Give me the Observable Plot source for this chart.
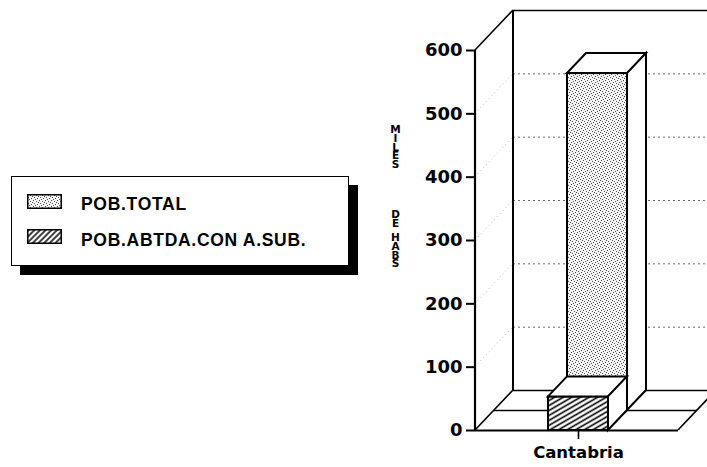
<!DOCTYPE html>
<html>
<head>
<meta charset="utf-8">
<script src="https://cdn.jsdelivr.net/npm/d3@7"></script>
<script src="https://cdn.jsdelivr.net/npm/@observablehq/plot@0.6"></script>
<style>
  html, body { margin: 0; padding: 0; background: #fff; }
  #wrap { position: relative; width: 707px; height: 467px; overflow: hidden; background: #fff; }
  #chart { position: absolute; left: 0; top: 0; }
  #legend {
    position: absolute; left: 11px; top: 176px; width: 336px; height: 88px;
    border: 1.5px solid #000; background: #fff; box-shadow: 9px 9px 0 #000;
    font-family: "Liberation Sans", Arial, sans-serif; font-weight: bold;
    font-size: 17.5px; letter-spacing: 0.7px; color: #000;
  }
  #legend .sw { position: absolute; left: 15px; width: 35px; height: 15px; }
  #legend .lab { position: absolute; left: 69px; line-height: 17.5px; white-space: nowrap; }
</style>
</head>
<body>
<svg width="0" height="0" style="position:absolute">
  <defs>
    <pattern id="stipple" patternUnits="userSpaceOnUse" width="6" height="6">
      <rect width="6" height="6" fill="#f4f4f4"/>
      <rect x="0" y="0" width="1" height="1" fill="#444"/>
      <rect x="3" y="1" width="1" height="1" fill="#555"/>
      <rect x="5" y="2" width="1" height="1" fill="#444"/>
      <rect x="1" y="3" width="1" height="1" fill="#555"/>
      <rect x="4" y="4" width="1" height="1" fill="#444"/>
      <rect x="2" y="5" width="1" height="1" fill="#555"/>
    </pattern>
    <pattern id="hatch" patternUnits="userSpaceOnUse" width="8" height="4.3" patternTransform="rotate(-30)">
      <rect width="8" height="4.3" fill="#fff"/>
      <line x1="0" y1="2.15" x2="8" y2="2.15" stroke="#000" stroke-width="1.6"/>
    </pattern>
    <pattern id="hatchLegend" patternUnits="userSpaceOnUse" width="8" height="4" patternTransform="rotate(-45)">
      <rect width="8" height="4" fill="#fff"/>
      <line x1="0" y1="2" x2="8" y2="2" stroke="#000" stroke-width="1.5"/>
    </pattern>
  </defs>
</svg>
<div id="wrap">
  <div id="chart"></div>
  <div id="legend"></div>
</div>
<script>
// ---- data ----
const categories = ["Cantabria"];
const seriesNames = ["POB.TOTAL", "POB.ABTDA.CON A.SUB."];
const pobTotal = [532];        // miles de habitantes
const pobAbastecida = [53];    // miles de habitantes
const yTicks = [0, 100, 200, 300, 400, 500, 600];
const axisTitleWords = ["MILES", "DE", "HABS"];

// ---- style / layout ----
const DX = 19, DY = -20;                 // depth offset of one series row (px)
const seriesFills = ["url(#stipple)", "url(#hatch)"];
const legendFills = ["url(#stipple)", "url(#hatchLegend)"];
const titleOffsets = [65, 150, 173];     // vertical offsets of the stacked title words
const axisFont = "DejaVu Sans";

const rows = categories.map((c, i) => ({region: c, total: pobTotal[i], sub: pobAbastecida[i]}));

function bar3d(field, fill, slot) {
  return Plot.barY(rows, {
    x: "region", y: field, fill, stroke: "#000", strokeWidth: 2,
    dx: slot * DX, dy: slot * DY,
    render(index, scales, values, dims, context, next) {
      const g = next(index, scales, values, dims, context);
      const bw = typeof scales.x.bandwidth === "function" ? scales.x.bandwidth() : scales.scales.x.bandwidth;
      const sel = d3.select(g);
      for (const i of index) {
        const x0 = scales.x(rows[i].region), x1 = x0 + bw;
        const yt = scales.y(rows[i][field]), yb = scales.y(0);
        sel.append("polygon")
          .attr("points", [[x0, yt], [x1, yt], [x1 + DX, yt + DY], [x0 + DX, yt + DY]].map(p => p.join(",")).join(" "))
          .attr("fill", "#fff").attr("stroke-linejoin", "miter");
        sel.append("polygon")
          .attr("points", [[x1, yt], [x1 + DX, yt + DY], [x1 + DX, yb + DY], [x1, yb]].map(p => p.join(",")).join(" "))
          .attr("fill", "#fff").attr("stroke-linejoin", "miter");
      }
      return g;
    }
  });
}

function walls(index, scales, values, dims) {
  const L = dims.marginLeft, R = dims.width - dims.marginRight;
  const y0 = scales.y(yTicks[0]), yT = scales.y(yTicks[yTicks.length - 1]);
  const BX = 2 * DX, BY = 2 * DY;
  const g = d3.create("svg:g").attr("fill", "none").attr("stroke", "#000");
  const seg = (a, b, w, dash, col) => {
    const l = g.append("line").attr("x1", a[0]).attr("y1", a[1]).attr("x2", b[0]).attr("y2", b[1])
      .attr("stroke-width", w).attr("stroke", col || "#000");
    if (dash) l.attr("stroke-dasharray", dash);
  };
  // faint dotted lines on the left wall
  for (const t of yTicks.slice(1, -1)) seg([L, scales.y(t)], [L + BX, scales.y(t) + BY], 0.7, "1,3", "#999");
  seg([L, yT], [L + BX, yT + BY], 1.6);            // top of left wall
  seg([L, y0], [L + BX, y0 + BY], 1.6);            // floor left edge
  seg([L + BX, yT + BY], [L + BX, y0 + BY], 2);    // back corner
  seg([L, yT], [L, y0], 2.2);                      // front axis
  seg([R, y0], [R + BX, y0 + BY], 1.6);            // floor right edge
  return g.node();
}

// stacked (upright vertical) axis title words
function titleWord(word, k) {
  return Plot.text([word], {
    text: d => d,
    frameAnchor: "top-left", dx: -80, dy: titleOffsets[k],
    textAnchor: "start",
    fontSize: 10.5, fontWeight: "bold", fontFamily: axisFont, fill: "#000",
    render(index, scales, values, dims, context, next) {
      const g = next(index, scales, values, dims, context);
      d3.select(g).selectAll("text")
        .attr("dy", null)
        .attr("letter-spacing", -3.2)
        .style("writing-mode", "vertical-rl")
        .style("text-orientation", "upright");
      return g;
    }
  });
}

const plot = Plot.plot({
  width: 707,
  height: 467,
  marginLeft: 475,
  marginRight: 29,
  marginTop: 50,
  marginBottom: 37,
  style: {background: "transparent", fontFamily: axisFont, overflow: "visible", color: "#000"},
  x: {type: "band", domain: categories, padding: 0.54, align: 0.51, label: null},
  y: {domain: [yTicks[0], yTicks[yTicks.length - 1]], label: null},
  marks: [
    // back wall gridlines
    Plot.ruleY(yTicks.slice(1, -1), {dx: 2 * DX, dy: 2 * DY, stroke: "#444", strokeWidth: 0.8, strokeDasharray: "2,3"}),
    Plot.ruleY([yTicks[yTicks.length - 1]], {dx: 2 * DX, dy: 2 * DY, stroke: "#000", strokeWidth: 1.6}),
    Plot.ruleY([0], {dx: 2 * DX, dy: 2 * DY, stroke: "#000", strokeWidth: 1.6}),
    Plot.ruleY([0], {dx: DX, dy: DY, stroke: "#000", strokeWidth: 1.6}),
    Plot.ruleY([0], {stroke: "#000", strokeWidth: 2}),
    walls,
    bar3d("total", seriesFills[0], 1),
    bar3d("sub", seriesFills[1], 0),
    Plot.axisY(yTicks, {tickSize: 9, tickPadding: 4, strokeWidth: 2, fontSize: 18, fontWeight: "bold", fontFamily: axisFont, label: null}),
    Plot.axisX({tickSize: 9, tickPadding: 7, strokeWidth: 1.6, fontSize: 16.5, fontWeight: "bold", fontFamily: axisFont, label: null}),
    ...axisTitleWords.map(titleWord)
  ]
});
document.getElementById("chart").appendChild(plot);

// ---- legend ----
const legend = d3.select("#legend");
const swTops = [16.5, 51.5], labTops = [19.4, 55];
seriesNames.forEach((name, i) => {
  const sw = legend.append("svg").attr("class", "sw").style("top", swTops[i] + "px")
    .attr("width", 35).attr("height", 15);
  sw.append("rect").attr("x", 0.75).attr("y", 0.75).attr("width", 33.5).attr("height", 13.5)
    .attr("fill", legendFills[i]).attr("stroke", "#000").attr("stroke-width", 1.5);
  legend.append("div").attr("class", "lab").style("top", labTops[i] + "px").text(name);
});
</script>
</body>
</html>
